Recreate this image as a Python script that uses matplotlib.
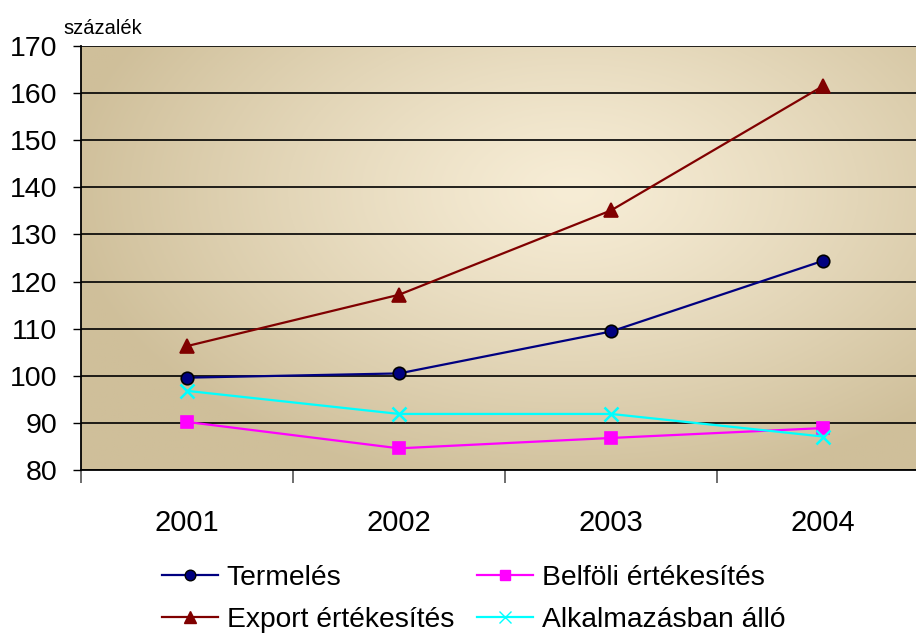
import matplotlib.pyplot as plt
import numpy as np
from matplotlib.lines import Line2D

plt.rcParams['font.family'] = ['Liberation Sans', 'DejaVu Sans']

years = ["2001", "2002", "2003", "2004"]
termeles = [99.6, 100.5, 109.4, 124.4]
export = [106.3, 117.2, 135.1, 161.5]
belfoldi = [90.2, 84.6, 86.8, 88.9]
alkalmazas = [96.8, 91.9, 91.9, 87.1]

series = [
    ("Termelés", termeles, "#000080", "o", "black", 9),
    ("Export értékesítés", export, "#800000", "^", "#800000", 10),
    ("Belföli értékesítés", belfoldi, "#FF00FF", "s", "#FF00FF", 8.5),
    ("Alkalmazásban álló", alkalmazas, "#00FFFF", "x", "#00FFFF", 10),
]

fig = plt.figure(figsize=(9.16, 6.37), dpi=100)
ax = fig.add_axes([81 / 916, 167 / 637, 848 / 916, 424 / 637])

# radial gradient background
nx, ny = 400, 200
gx, gy = np.meshgrid(np.linspace(0, 1, nx), np.linspace(0, 1, ny))
r = np.sqrt(((gx - 0.58) / 0.6) ** 2 + ((gy - 0.66) / 0.72) ** 2)
r = np.clip(r, 0, 1) ** 1.2
c0 = np.array([0xF7, 0xED, 0xD6]) / 255
c1 = np.array([0xCF, 0xBF, 0x9A]) / 255
img = c0[None, None, :] * (1 - r[..., None]) + c1[None, None, :] * r[..., None]
ax.imshow(img, extent=[0, 1, 0, 1], transform=ax.transAxes, origin="lower",
          aspect="auto", zorder=0)

x = np.arange(len(years))
for label, vals, col, mk, mec, ms in series:
    ax.plot(x, vals, color=col, lw=1.6, marker=mk, markersize=ms,
            markerfacecolor=col, markeredgecolor=mec,
            markeredgewidth=1.8 if mk == "x" else 1.2, zorder=3, clip_on=False)

ax.set_xlim(-0.5, 3.5)
ax.set_ylim(80, 170)
ax.set_yticks(np.arange(80, 171, 10))
ax.tick_params(axis="y", labelsize=20.5, length=6, width=1, direction="out", pad=11)
ax.yaxis.grid(True, color="black", lw=1.2, zorder=1)
ax.set_axisbelow(True)

ax.set_xticks(x)
ax.set_xticklabels(years)
ax.set_xticks(np.arange(-0.5, 3.6, 1), minor=True)
ax.tick_params(axis="x", which="major", length=0, labelsize=21, pad=28)
ax.tick_params(axis="x", which="minor", length=9, width=1.2, color="#555555")

for s in ["top", "right"]:
    ax.spines[s].set_visible(False)
ax.spines["left"].set_linewidth(1.3)
ax.spines["bottom"].set_linewidth(1.3)

fig.text(63 / 916, 1 - 28 / 637, "százalék", fontsize=14.5, va="center", ha="left")

handles = [Line2D([], [], color=col, lw=1.6, marker=mk, markersize=ms * 0.85,
                  markerfacecolor=col, markeredgecolor=mec)
           for label, vals, col, mk, mec, ms in series]
labels = [s[0] for s in series]
fig.legend(handles, labels, loc="center", bbox_to_anchor=(0.517, 0.06),
           ncol=2, frameon=False, fontsize=20.3, handlelength=2.0,
           handletextpad=0.3, columnspacing=0.8, labelspacing=0.58)

fig.savefig("out.png", dpi=100)
